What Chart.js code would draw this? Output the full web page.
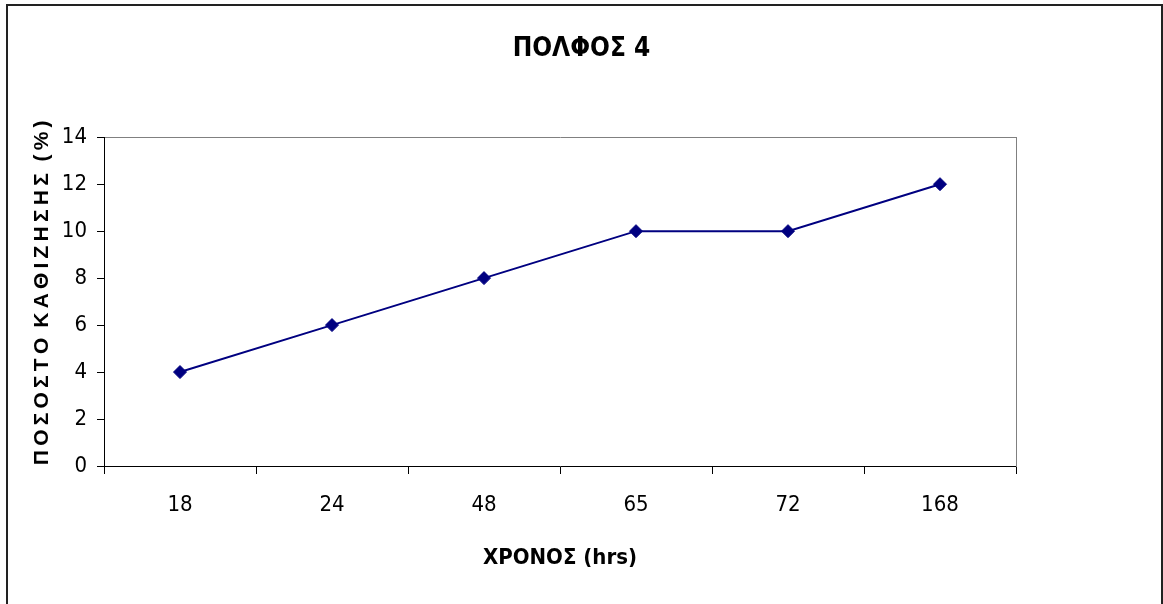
<!DOCTYPE html>
<html>
<head>
<meta charset="utf-8">
<title>ΠΟΛΦΟΣ 4</title>
<script src="https://cdn.jsdelivr.net/npm/chart.js@4/dist/chart.umd.min.js"></script>
<style>
  html, body { margin: 0; padding: 0; background: #fff; }
  #wrap { position: relative; width: 1163px; height: 604px; overflow: hidden; }
  #frame { position: absolute; left: 6px; top: 4px; width: 1153px; height: 640px;
           border: 2px solid #222; pointer-events: none; }
  canvas { position: absolute; left: 0; top: 0; }
</style>
</head>
<body>
<div id="wrap">
  <canvas id="chart" width="1163" height="604"></canvas>
  <div id="frame"></div>
</div>
<script>
// Settlement percentage over time
const hours = ['18', '24', '48', '65', '72', '168'];
const settlement = [4, 6, 8, 10, 10, 12];
const yTicks = [0, 2, 4, 6, 8, 10, 12, 14];

const chartTitle = 'ΠΟΛΦΟΣ 4';
const xTitle = 'ΧΡΟΝΟΣ (hrs)';

// spaced-out axis title: thin spaces between letters, wider gaps between words
const thin = '\u2009';
const spaced = w => Array.from(w).join(thin);
const yTitle = '   ' + spaced('ΠΟΣΟΣΤΟ') + ' \u2009' + spaced('ΚΑΘΙΖΗΣΗΣ') + '  ' + spaced('(%)');

const narrow = "'Liberation Sans Narrow', 'Arial Narrow', 'DejaVu Sans Condensed', sans-serif";
const wide = "'Liberation Sans', Arial, sans-serif";
const navy = '#000080';

new Chart(document.getElementById('chart'), {
  type: 'line',
  data: {
    labels: hours,
    datasets: [{
      data: settlement,
      borderColor: navy,
      backgroundColor: navy,
      borderWidth: 2,
      pointStyle: 'rectRot',
      pointRadius: 6.5,
      pointHoverRadius: 6.5,
      pointBackgroundColor: navy,
      pointBorderColor: navy,
      pointBorderWidth: 1,
      tension: 0,
      fill: false
    }]
  },
  options: {
    responsive: false,
    animation: false,
    devicePixelRatio: 1,
    layout: { padding: 0 },
    plugins: {
      legend: { display: false },
      tooltip: { enabled: false },
      title: {
        display: true,
        text: chartTitle,
        color: '#000',
        font: { family: narrow, size: 26, weight: 'bold', lineHeight: 1.2 },
        padding: { top: 34, bottom: 72 }
      }
    },
    scales: {
      x: {
        type: 'category',
        position: 'bottom',
        offset: true,
        grid: { display: true, drawOnChartArea: false, offset: true, tickLength: 8, color: '#000', lineWidth: 1 },
        border: { display: true, color: '#000', width: 1 },
        ticks: { color: '#000', padding: 18, maxRotation: 0, autoSkip: false,
                 font: { family: narrow, size: 22, lineHeight: 1.2 } },
        title: { display: true, text: xTitle, color: '#000',
                 font: { family: narrow, size: 22, weight: 'bold', lineHeight: 1.2 },
                 padding: { top: 0, bottom: 33 } },
        afterFit(scale) { scale.height = 138; }
      },
      xTop: {
        type: 'category',
        position: 'top',
        display: true,
        grid: { display: false, drawTicks: false },
        border: { display: true, color: '#808080', width: 1 },
        ticks: { display: false },
        afterFit(scale) { scale.height = 0; }
      },
      y: {
        type: 'linear',
        position: 'left',
        min: 0,
        max: 14,
        afterBuildTicks(scale) { scale.ticks = yTicks.map(v => ({ value: v })); },
        grid: { display: true, drawOnChartArea: false, tickLength: 7, color: '#000', lineWidth: 1 },
        border: { display: true, color: '#000', width: 1 },
        ticks: { color: '#000', padding: 10,
                 font: { family: narrow, size: 22, lineHeight: 1.2 } },
        title: { display: true, text: yTitle, color: '#000',
                 font: { family: wide, size: 21, weight: 'bold', lineHeight: 1.2 },
                 padding: { top: 30, bottom: 0 } },
        afterFit(scale) { scale.width = 104; }
      },
      yRight: {
        type: 'linear',
        position: 'right',
        display: true,
        min: 0,
        max: 14,
        grid: { display: false, drawTicks: false },
        border: { display: true, color: '#808080', width: 1 },
        ticks: { display: false },
        afterFit(scale) { scale.width = 147; }
      }
    }
  }
});
</script>
</body>
</html>
